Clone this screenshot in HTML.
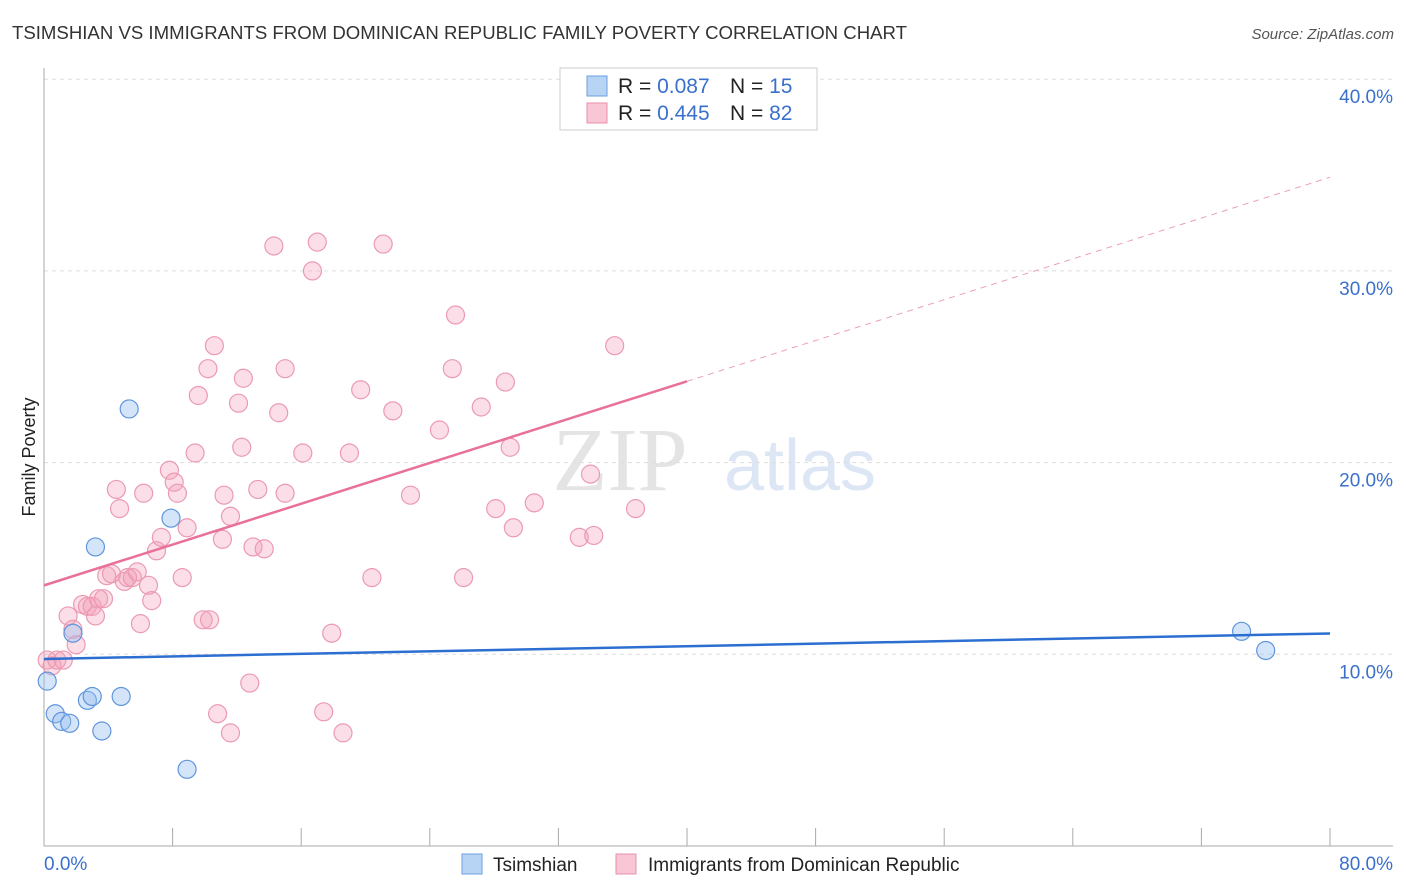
<!DOCTYPE html>
<html><head><meta charset="utf-8"><style>
body{margin:0;background:#fff;font-family:"Liberation Sans",sans-serif;}
svg{display:block}
</style></head><body>
<svg id="chart" width="1406" height="892">
<text x="12" y="39" font-size="18" fill="#333" textLength="895" lengthAdjust="spacingAndGlyphs">TSIMSHIAN VS IMMIGRANTS FROM DOMINICAN REPUBLIC FAMILY POVERTY CORRELATION CHART</text>
<text x="1394" y="39" font-size="15" fill="#555" font-style="italic" text-anchor="end">Source: ZipAtlas.com</text>
<text x="35" y="457" font-size="18" fill="#222" text-anchor="middle" transform="rotate(-90 35 457)">Family Poverty</text>
<text x="620" y="490" font-size="90" fill="#e4e4e4" font-family="Liberation Serif,serif" text-anchor="middle">ZIP</text>
<text x="800" y="490" font-size="72" fill="#dce6f4" text-anchor="middle">atlas</text>
<g id="grid"></g><g id="axes"></g><g id="pts"></g><g id="lines"></g>
<g>
<rect x="560" y="68" width="257" height="62" fill="#fff" stroke="#ccc"/>
<rect x="587" y="76" width="20" height="20" fill="#b8d4f5" stroke="#6a9fe0"/>
<rect x="587" y="103" width="20" height="20" fill="#f9c6d5" stroke="#ea8fab"/>
<text x="618" y="93" font-size="21" fill="#222">R = <tspan fill="#3a70cc">0.087</tspan><tspan x="730">N = </tspan><tspan fill="#3a70cc">15</tspan></text>
<text x="618" y="120" font-size="21" fill="#222">R = <tspan fill="#3a70cc">0.445</tspan><tspan x="730">N = </tspan><tspan fill="#3a70cc">82</tspan></text>
</g>
<g>
<rect x="462" y="854" width="20" height="20" fill="#b8d4f5" stroke="#6a9fe0"/>
<text x="493" y="871" font-size="19" fill="#222">Tsimshian</text>
<rect x="616" y="854" width="20" height="20" fill="#f9c6d5" stroke="#ea8fab"/>
<text x="648" y="871" font-size="19" fill="#222">Immigrants from Dominican Republic</text>
</g>
</svg>
<script>
const yTicks=[10,20,30,40];
const xTickLabels=["0.0%","80.0%"];
const blueX=[0.2,0.7,1.1,1.6,1.8,2.7,3.0,3.2,3.6,4.8,5.3,7.9,8.9,74.5,76.0];
const blueY=[8.6,6.9,6.5,6.4,11.1,7.6,7.8,15.6,6.0,7.8,22.8,17.1,4.0,11.2,10.2];
const pinkX=[0.2,0.5,0.8,1.2,1.5,1.8,2.0,2.4,2.7,3.0,3.2,3.4,3.7,3.9,4.2,4.5,4.7,5.0,5.2,5.5,5.8,6.0,6.2,6.5,6.7,7.0,7.3,7.8,8.1,8.3,8.6,8.9,9.4,9.6,9.9,10.2,10.3,10.6,10.8,11.1,11.2,11.6,11.6,12.1,12.3,12.4,12.8,13.0,13.3,13.7,14.3,14.6,15.0,15.0,16.1,16.7,17.0,17.4,17.9,18.6,19.0,19.7,20.4,21.1,21.7,22.8,24.6,25.4,25.6,26.1,27.2,28.1,28.7,29.0,29.2,30.5,33.3,34.0,34.2,35.5,36.8];
const pinkY=[9.7,9.4,9.7,9.7,12.0,11.3,10.5,12.6,12.5,12.5,12.0,12.9,12.9,14.1,14.2,18.6,17.6,13.8,14.0,14.0,14.3,11.6,18.4,13.6,12.8,15.4,16.1,19.6,18.98,18.4,14.0,16.6,20.5,23.5,11.8,24.9,11.8,26.1,6.9,16.0,18.3,17.2,5.9,23.1,20.8,24.4,8.5,15.6,18.6,15.5,31.3,22.6,24.9,18.4,20.5,30.0,31.5,7.0,11.1,5.9,20.5,23.8,14.0,31.4,22.7,18.3,21.7,24.9,27.7,14.0,22.9,17.6,24.2,20.8,16.6,17.9,16.1,19.4,16.2,26.1,17.6];
const NS='http://www.w3.org/2000/svg';
const X=v=>44+v*16.075, Y=v=>846-v*19.17;
function mk(t,a,p){const e=document.createElementNS(NS,t);for(const k in a)e.setAttribute(k,a[k]);p.appendChild(e);return e;}
const grid=document.getElementById('grid'),axes=document.getElementById('axes'),pts=document.getElementById('pts'),lines=document.getElementById('lines');
yTicks.forEach(t=>{
 const l=mk('line',{x1:44,x2:1393,y1:Y(t),y2:Y(t),stroke:'#ddd','stroke-dasharray':'4,4'},grid);
 
 
 const tx=mk('text',{x:1393,y:Y(t)+24,'font-size':19,fill:'#3a70cc','text-anchor':'end'},axes);
 tx.textContent=t.toFixed(1)+'%';
 
 
});
mk('line',{x1:44,x2:44,y1:68,y2:846,stroke:'#aaa'},axes);
mk('line',{x1:44,x2:1393,y1:846,y2:846,stroke:'#aaa'},axes);
for(let i=0;i<=10;i++){mk('line',{x1:X(i*8),x2:X(i*8),y1:828,y2:846,stroke:'#aaa'},axes);}
[[0,'start'],[80,'end']].forEach((p,i)=>{
 const tx=mk('text',{x:i?1393:44,y:870,'font-size':19,fill:'#3a70cc','text-anchor':p[1]},axes);
 tx.textContent=xTickLabels[i];
 
 
});
pinkX.forEach((x,i)=>{
 const c=mk('circle',{cx:X(x),cy:Y(pinkY[i]),r:9,fill:'rgba(244,160,185,0.35)',stroke:'#eb9ab2','stroke-width':1.2},pts);
 
 
});
blueX.forEach((x,i)=>{
 const c=mk('circle',{cx:X(x),cy:Y(blueY[i]),r:9,fill:'rgba(150,190,240,0.4)',stroke:'#5f95dc','stroke-width':1.2},pts);
 
 
});
function fit(xs,ys){const n=xs.length,mx=xs.reduce((a,b)=>a+b)/n,my=ys.reduce((a,b)=>a+b)/n;let sxy=0,sxx=0;xs.forEach((x,i)=>{sxy+=(x-mx)*(ys[i]-my);sxx+=(x-mx)**2});const b=sxy/sxx;return [my-b*mx,b];}
const [pa,pb]=fit(pinkX,pinkY),[ba,bb]=fit(blueX,blueY);
const pe=40;
let l=mk('line',{x1:X(0),y1:Y(pa),x2:X(pe),y2:Y(pa+pb*pe),stroke:'#e8709a','stroke-width':2.5},lines);


l=mk('line',{x1:X(pe),y1:Y(pa+pb*pe),x2:X(80),y2:Y(pa+pb*80),stroke:'#eaa0b8','stroke-width':1,'stroke-dasharray':'6,5'},lines);


l=mk('line',{x1:X(0),y1:Y(ba),x2:X(80),y2:Y(ba+bb*80),stroke:'#2c6fd1','stroke-width':2.5},lines);


</script>
</body></html>
